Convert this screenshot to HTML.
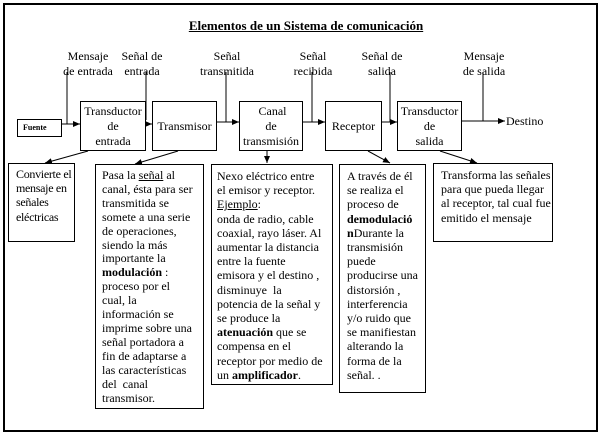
<!DOCTYPE html>
<html><head><meta charset="utf-8"><style>
body{margin:0;width:600px;height:434px;background:#fff;position:relative;overflow:hidden;font-family:"Liberation Serif",serif;color:#000}
.a{position:absolute;box-sizing:border-box}
.bx{position:absolute;box-sizing:border-box;border:1px solid #000;background:#fff}
.t{font-size:12px;line-height:14.2px;white-space:nowrap}
.c{text-align:center}
.lbl{position:absolute;font-size:12px;line-height:15px;text-align:center;white-space:nowrap;transform:translateX(-50%)}
</style></head><body>
<div class="a" style="left:3px;top:3px;width:595px;height:429px;border:2px solid #000"></div>
<div class="a" style="left:179px;top:18px;width:254px;text-align:center;font-weight:bold;text-decoration:underline;font-size:13px;white-space:nowrap">Elementos de un Sistema de comunicación</div>

<svg class="a" style="left:0;top:0" width="600" height="434">
<defs><marker id="m" markerWidth="7" markerHeight="6" refX="7" refY="3" orient="auto" markerUnits="userSpaceOnUse"><path d="M0,0 L7,3 L0,6z" fill="#000"/></marker></defs>
<g stroke="#000" stroke-width="1" fill="none">
<line x1="61" y1="124" x2="80" y2="124" marker-end="url(#m)"/>
<line x1="146" y1="124" x2="152" y2="124" marker-end="url(#m)"/>
<line x1="217" y1="122" x2="239" y2="122" marker-end="url(#m)"/>
<line x1="302" y1="122" x2="325" y2="122" marker-end="url(#m)"/>
<line x1="382" y1="122" x2="397" y2="122" marker-end="url(#m)"/>
<line x1="462" y1="121" x2="505" y2="121" marker-end="url(#m)"/>
<line x1="67" y1="72" x2="67" y2="124"/>
<line x1="146" y1="72" x2="146" y2="120"/>
<line x1="226" y1="72" x2="226" y2="122"/>
<line x1="312" y1="72" x2="312" y2="122"/>
<line x1="390" y1="72" x2="390" y2="122"/>
<line x1="483" y1="72" x2="483" y2="121"/>
<line x1="88" y1="151" x2="45" y2="163" marker-end="url(#m)"/>
<line x1="178" y1="151" x2="135" y2="164" marker-end="url(#m)"/>
<line x1="267" y1="151" x2="267" y2="163" marker-end="url(#m)"/>
<line x1="368" y1="151" x2="390" y2="163" marker-end="url(#m)"/>
<line x1="440" y1="151" x2="477" y2="163" marker-end="url(#m)"/>
</g></svg>

<div class="lbl" style="left:88px;top:49px">Mensaje<br>de entrada</div>
<div class="lbl" style="left:142px;top:49px">Señal de<br>entrada</div>
<div class="lbl" style="left:227px;top:49px">Señal<br>transmitida</div>
<div class="lbl" style="left:313px;top:49px">Señal<br>recibida</div>
<div class="lbl" style="left:382px;top:49px">Señal de<br>salida</div>
<div class="lbl" style="left:484px;top:49px">Mensaje<br>de salida</div>

<div class="bx" style="left:17px;top:119px;width:45px;height:18px;font-size:8px;font-weight:bold;line-height:16px;padding-left:5px">Fuente</div>
<div class="bx t c" style="left:80px;top:101px;width:66px;height:50px;padding-top:2px;line-height:15px">Transductor<br>de<br>entrada</div>
<div class="bx t c" style="left:152px;top:101px;width:65px;height:50px;line-height:48px">Transmisor</div>
<div class="bx t c" style="left:239px;top:101px;width:64px;height:50px;padding-top:2px;line-height:15px">&nbsp;Canal<br>de<br>transmisión</div>
<div class="bx t c" style="left:325px;top:101px;width:57px;height:50px;line-height:48px">Receptor</div>
<div class="bx t c" style="left:397px;top:101px;width:65px;height:50px;padding-top:2px;line-height:15px">Transductor<br>de<br>salida</div>
<div class="a t" style="left:506px;top:114px">Destino</div>

<div class="bx t" style="left:8px;top:163px;width:67px;height:79px;padding:3px 0 0 7px;letter-spacing:-0.3px">Convierte el<br>mensaje en<br>señales<br>eléctricas</div>
<div class="bx t" style="left:95px;top:164px;width:109px;height:245px;padding:4px 0 0 6px;line-height:13.9px">Pasa la <u>señal</u> al<br>canal, ésta para ser<br>transmitida se<br>somete a una serie<br>de operaciones,<br>siendo la más<br>importante la<br><b>modulación</b> :<br>proceso por el<br>cual, la<br>información se<br>imprime sobre una<br>señal portadora a<br>fin de adaptarse a<br>las características<br>del&nbsp; canal<br>transmisor.</div>
<div class="bx t" style="left:211px;top:164px;width:122px;height:221px;padding:4px 0 0 5px">Nexo eléctrico entre<br>el emisor y receptor.<br><u>Ejemplo</u>:<br>onda de radio, cable<br>coaxial, rayo láser. Al<br>aumentar la distancia<br>entre la fuente<br>emisora y el destino ,<br>disminuye&nbsp; la<br>potencia de la señal y<br>se produce la<br><b>atenuación</b> que se<br>compensa en el<br>receptor por medio de<br>un <b>amplificador</b>.</div>
<div class="bx t" style="left:339px;top:164px;width:87px;height:229px;padding:4px 0 0 7px">A través de él<br>se realiza el<br>proceso de<br><b>demodulació</b><br><b>n</b>Durante la<br>transmisión<br>puede<br>producirse una<br>distorsión ,<br>interferencia<br>y/o ruido que<br>se manifiestan<br>alterando la<br>forma de la<br>señal. .</div>
<div class="bx t" style="left:433px;top:163px;width:120px;height:79px;padding:4px 0 0 7px">Transforma las señales<br>para que pueda llegar<br>al receptor, tal cual fue<br>emitido el mensaje</div>
</body></html>
